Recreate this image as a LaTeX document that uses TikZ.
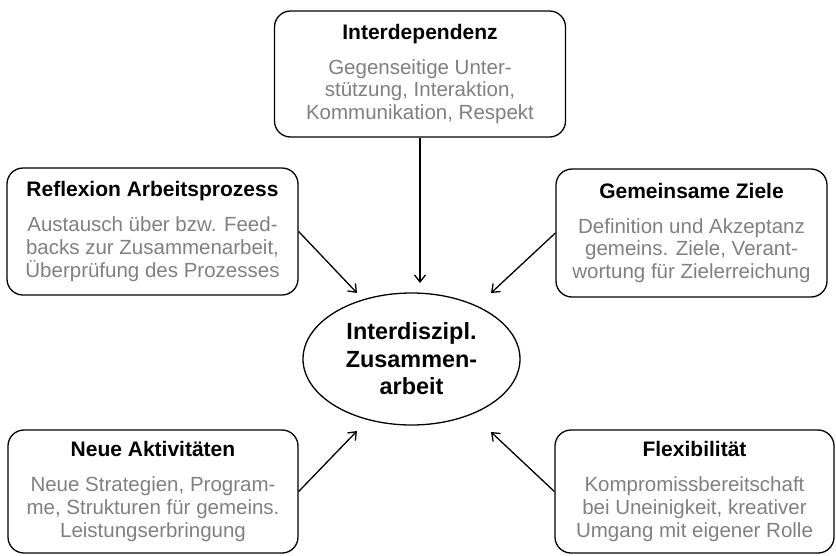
\documentclass[tikz,border=0pt]{standalone}
\usepackage{fontspec}
\setmainfont{Liberation Sans}
\usetikzlibrary{shapes.geometric,arrows.meta}
\definecolor{bodygray}{RGB}{128,128,128}
\tikzset{
  topic/.style={draw, line width=1.3pt, rounded corners=16pt, align=center, text=bodygray,
    inner sep=0pt, font=\fontsize{20.5}{22.8}\selectfont},
  kernel/.style={draw, ellipse, line width=1.3pt, inner sep=0pt, align=center,
    font=\bfseries\fontsize{23.4}{27.5}\selectfont},
  pfeil/.style={line width=1.3pt, -{Straight Barb[length=7pt,width=11pt]}},
}
\newcommand{\titel}[1]{\textcolor{black}{\bfseries\fontsize{21}{22.8}\selectfont #1}}
\begin{document}
\begin{tikzpicture}[x=1pt,y=-1pt]
  \useasboundingbox (0,0) rectangle (836,555);
  \node[kernel, minimum width=217, minimum height=132] (kern) at (411.5,359)
    {Interdiszipl.\\Zusammen-\\arbeit}; % center
  \node[topic, minimum width=291, minimum height=126] (inter) at (420,74)
    {\titel{Interdependenz}\\[12pt]Gegenseitige Unter-\\stützung, Interaktion,\\Kommunikation, Respekt}; % top
  \node[topic, minimum width=291, minimum height=127] (refl) at (152.5,231.5)
    {\titel{Reflexion Arbeitsprozess}\\[12pt]Austausch über bzw. Feed-\\backs zur Zusammenarbeit,\\Überprüfung des Prozesses}; % left
  \node[topic, minimum width=271, minimum height=128] (ziele) at (691.5,233)
    {\titel{Gemeinsame Ziele}\\[12pt]Definition und Akzeptanz\\gemeins. Ziele, Verant-\\wortung für Zielerreichung}; % right
  \node[topic, minimum width=290, minimum height=123] (neue) at (153,491.5)
    {\titel{Neue Aktivitäten}\\[12pt]Neue Strategien, Program-\\me, Strukturen für gemeins.\\Leistungserbringung}; % bottom left
  \node[topic, minimum width=279, minimum height=123] (flex) at (694.5,491.5)
    {\titel{Flexibilität}\\[12pt]Kompromissbereitschaft\\bei Uneinigkeit, kreativer\\Umgang mit eigener Rolle}; % bottom right
  \coordinate (tipN) at (420,283);
  \coordinate (tipNW) at (357,293);
  \coordinate (tipNE) at (491,293);
  \coordinate (tipSW) at (357,431);
  \coordinate (tipSE) at (491,432);
  \draw[pfeil] (inter.south) -- (tipN);
  \draw[pfeil] (refl.east) -- (tipNW);
  \draw[pfeil] (ziele.west) -- (tipNE);
  \draw[pfeil] (neue.east) -- (tipSW);
  \draw[pfeil] (flex.west) -- (tipSE);
\end{tikzpicture}
\end{document}
